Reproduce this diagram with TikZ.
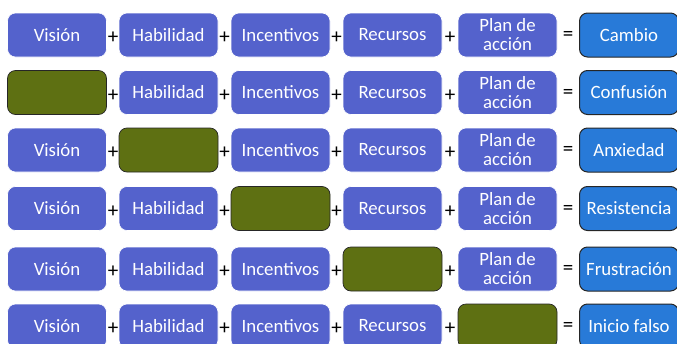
\documentclass[tikz,border=0pt]{standalone}
\usepackage{fontspec}
\setmainfont{Carlito}
\definecolor{factorcol}{RGB}{84,98,204}
\definecolor{missingcol}{RGB}{94,112,18}
\definecolor{outcomecol}{RGB}{40,122,216}
\begin{document}
\begin{tikzpicture}[x=1pt,y=-1pt,
  box/.style={rounded corners=8pt, minimum width=99pt, minimum height=44pt, inner sep=0pt,
    font=\fontsize{18.8}{19}\selectfont, text=white, align=center},
  factor/.style={box, fill=factorcol, draw=white, line width=0.6pt},
  missing/.style={box, fill=missingcol, draw=black!85, line width=0.7pt},
  outcome/.style={box, fill=outcomecol, draw=black!85, line width=1pt},
  op/.style={font=\fontsize{21}{21}\selectfont, inner sep=0pt, text=black}]
\useasboundingbox (0,0) rectangle (677,343);
\foreach \r/\y/\g/\res in {1/35/0/Cambio, 2/92.5/1/Confusión, 3/150/2/Anxiedad,
    4/208.5/3/Resistencia, 5/269/4/Frustración, 6/326/5/Inicio falso}{
  \foreach \c/\x/\lab in {1/57/Visión, 2/168.5/Habilidad, 3/280.5/Incentivos,
      4/392.5/Recursos, 5/507.5/{Plan de\\acción}}{
    \ifnum\c=\g
      \node[missing] (b\r-\c) at (\x,\y) {};
    \else
      \node[factor] (b\r-\c) at (\x,\y) {\lab};
    \fi
  }
  \node[outcome] (res\r) at (629,\y) {\res};
  \foreach \px/\k in {113/1, 224.5/2, 336.5/3, 450/4}{
    \node[op] (p\r-\k) at (\px,\y+3) {+};
  }
  \node[op] (eq\r) at (568,\y+1) {=};
}
\end{tikzpicture}
\end{document}
